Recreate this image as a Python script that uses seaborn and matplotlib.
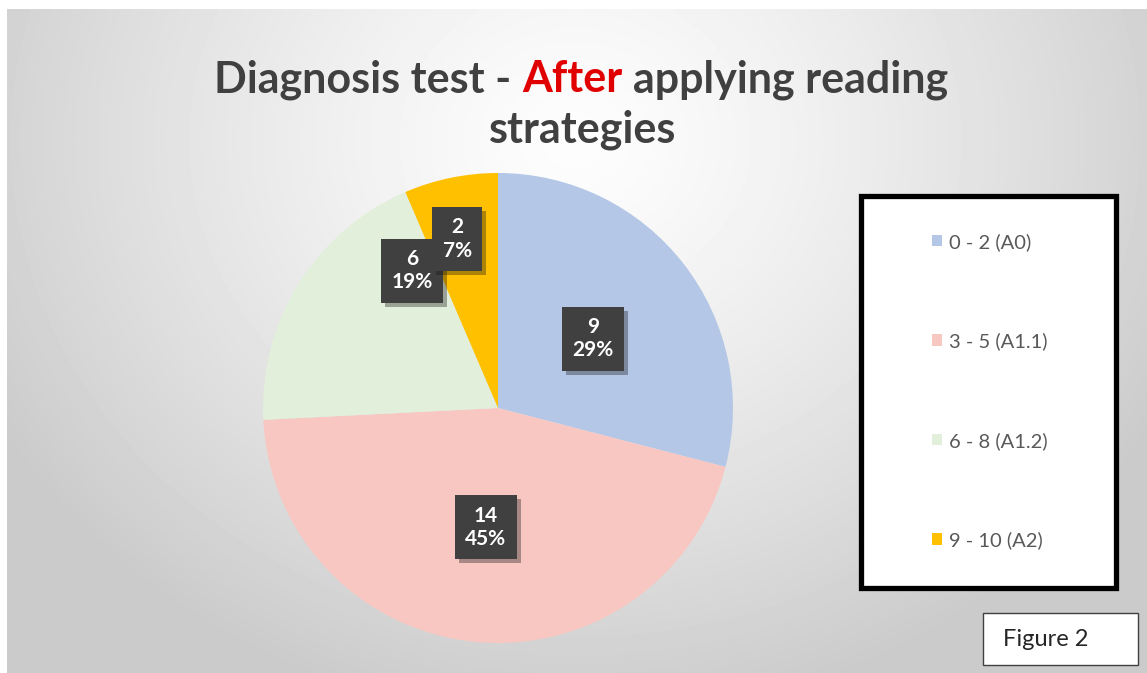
import numpy as np
import seaborn as sns
import matplotlib.pyplot as plt
import matplotlib.patheffects as pe
from matplotlib.patches import Rectangle

# datos del gráfico
categories = ['0 - 2 (A0)', '3 - 5 (A1.1)', '6 - 8 (A1.2)', '9 - 10 (A2)']
students = [9, 14, 6, 2]
percent_labels = ['29%', '45%', '19%', '7%']
colors = ['#B4C7E7', '#F8C7C2', '#E2EFDA', '#FFC000']

# ajuste de posicion de las etiquetas (fraccion del radio, giro en grados)
label_dist = [0.50, 0.51, 0.69, 0.74]
label_shift = [-1.5, 0, -26, 2]

sns.set_style('white')
plt.rcParams['font.family'] = ['Lato', 'DejaVu Sans']

W, H = 1147, 673
fig = plt.figure(figsize=(W / 100, H / 100), dpi=100)
fig.patch.set_facecolor('white')

# fondo con degradado radial
bg = fig.add_axes([0, 0, 1, 1])
bg.set_xlim(0, W)
bg.set_ylim(H, 0)
bg.axis('off')
yy, xx = np.mgrid[9:H, 7:W]
d = np.sqrt(((xx - 575) / 660.0) ** 2 + ((yy - 140) / 580.0) ** 2)
val = (253 - 50 * np.clip(d, 0, 1) ** 1.3) / 255.0
bg.imshow(val, cmap='gray', vmin=0, vmax=1, extent=(7, W, H, 9),
          aspect='auto', interpolation='bilinear', zorder=0)

# pastel
ax = fig.add_axes([(498 - 235) / W, (H - 408 - 235) / H, 470 / W, 470 / H])
wedges, _ = ax.pie(students, colors=colors, startangle=90, counterclock=False,
                   wedgeprops=dict(linewidth=0))
ax.set_xlim(-1, 1)
ax.set_ylim(-1, 1)

for w, n, p, dist, s in zip(wedges, students, percent_labels, label_dist, label_shift):
    ang = np.deg2rad((w.theta1 + w.theta2) / 2 + s)
    t = ax.text(dist * np.cos(ang), dist * np.sin(ang), f'{n}\n{p}',
                ha='center', va='center', color='white', fontsize=15,
                fontweight='bold', linespacing=1.2,
                bbox=dict(boxstyle='square,pad=0.5', fc='#404040', ec='none'))
    t.get_bbox_patch().set_path_effects([
        pe.SimplePatchShadow(offset=(3, -3), alpha=0.35), pe.Normal()])

# titulo con "After" en rojo
tkw = dict(fontsize=31, fontweight='bold', va='baseline')
r = fig.canvas.get_renderer()


def width(s):
    t = bg.text(0, 0, s, **tkw)
    w = t.get_window_extent(r).width
    t.remove()
    return w


space = width('a a') - width('aa')
w1 = width('Diagnosis test -') + space
w2 = width('After')
w3 = space + width('applying reading')
x0 = 581 - (w1 + w2 + w3) / 2
bg.text(x0, 92, 'Diagnosis test -', ha='left', color='#404040', **tkw)
bg.text(x0 + w1, 92, 'After', ha='left', color='#E00000', **tkw)
bg.text(x0 + w1 + w2 + space, 92, 'applying reading', ha='left', color='#404040', **tkw)
bg.text(583, 142, 'strategies', ha='center', color='#404040', **tkw)

# leyenda
bg.add_patch(Rectangle((860.5, 195.5), 255, 392, fc='white', ec='black', lw=3.8, zorder=2))
leg = bg.legend(handles=wedges, labels=categories, loc='center',
                bbox_to_anchor=(990 / W, 1 - 391 / H), bbox_transform=fig.transFigure,
                frameon=False, labelspacing=4.05, handlelength=0.5, handleheight=0.5,
                handletextpad=0.35, prop=dict(size=14.5), labelcolor='#595959')
leg.set_zorder(3)

# caja "Figure 2"
bg.add_patch(Rectangle((983, 613), 155, 52, fc='white', ec='#404040', lw=1, zorder=2))
bg.text(1003, 640, 'Figure 2', ha='left', va='center', fontsize=17, color='#262626', zorder=3)

fig.savefig('out.png', dpi=100)
